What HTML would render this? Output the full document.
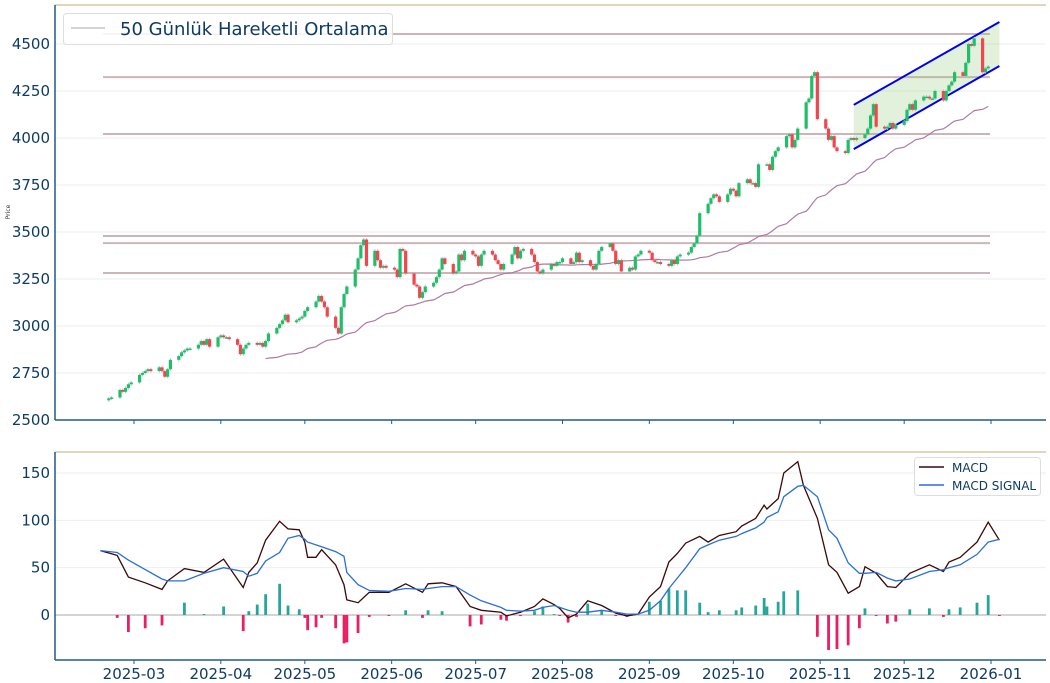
<!DOCTYPE html>
<html><head><meta charset="utf-8">
<style>
html,body{margin:0;padding:0;background:#fff;}
svg{display:block;font-family:"DejaVu Sans","Liberation Sans",sans-serif;}
</style></head>
<body>
<svg id="chart" width="1050" height="683" viewBox="0 0 1050 683" xmlns="http://www.w3.org/2000/svg">
<g id="gtop"></g>
<g id="gbot"></g>
</svg>
<script>
// ---- data ----
const monthCloses = [
 [2615,2620,2660,2650,2670,2690,2700],
 [2740,2750,2760,2770,2760,2780,2760,2730,2770,2820,2840,2860,2870,2880,2880,2900,2920,2900,2930,2890,2940],
 [2950,2940,2940,2930,2900,2850,2880,2900,2910,2900,2910,2890,2920,2960,2990,3010,3030,3060,3020,3030,3040,3050],
 [3080,3100,3130,3160,3130,3100,3050,2990,2960,3100,3170,3210,3300,3360,3430,3460,3320,3400,3350,3310,3320,3310],
 [3300,3260,3410,3400,3280,3220,3210,3150,3180,3210,3230,3260,3300,3360,3330,3280,3290,3380,3350,3400,3380],
 [3370,3320,3380,3400,3380,3350,3330,3300,3330,3380,3420,3360,3400,3410,3380,3340,3290,3280,3300,3330,3320,3340,3340],
 [3360,3330,3340,3390,3340,3350,3320,3300,3330,3400,3420,3440,3400,3330,3350,3290,3310,3300,3370,3380,3400],
 [3390,3350,3340,3340,3330,3320,3350,3330,3370,3380,3390,3420,3440,3480,3600,3650,3680,3700,3690,3660,3700,3730],
 [3720,3690,3760,3780,3760,3760,3740,3860,3860,3830,3900,3930,3950,4010,4020,3950,3990,4050,4190,4210,4330,4350,4100],
 [4050,3990,4010,3950,3930,3920,3990,4000,3990,4000,4020,4050,4120,4180,4060,4050,4060,4080,4050,4070],
 [4090,4150,4180,4150,4200,4220,4220,4210,4210,4250,4200,4250,4280,4300,4350,4330,4400,4500,4490,4530,4350,4370,4380]
];
const levels = [4553,4324,4021,3479,3441,3282];
const channelDates = ["2025-11-13","2026-01-04"];
const channelUpper = [4176,4617];
const channelLower = [3941,4383];
const priceTicks = [2500,2750,3000,3250,3500,3750,4000,4250,4500];
const macdTicks = [0,50,100,150];
const monthLabels = ["2025-03","2025-04","2025-05","2025-06","2025-07","2025-08","2025-09","2025-10","2025-11","2025-12","2026-01"];
const macdDates = ["2025-02-17","2025-02-23","2025-02-27","2025-03-05","2025-03-11","2025-03-13","2025-03-19","2025-03-26","2025-04-02","2025-04-09","2025-04-11","2025-04-14","2025-04-17","2025-04-22","2025-04-25","2025-04-29","2025-05-01","2025-05-02","2025-05-05","2025-05-07","2025-05-12","2025-05-15","2025-05-16","2025-05-20","2025-05-24","2025-05-31","2025-06-06","2025-06-12","2025-06-14","2025-06-19","2025-06-24","2025-06-29","2025-07-03","2025-07-10","2025-07-12","2025-07-17","2025-07-22","2025-07-25","2025-07-29","2025-07-31","2025-08-03","2025-08-06","2025-08-10","2025-08-15","2025-08-20","2025-08-24","2025-08-28","2025-09-01","2025-09-05","2025-09-08","2025-09-11","2025-09-14","2025-09-19","2025-09-22","2025-09-26","2025-10-02","2025-10-04","2025-10-09","2025-10-12","2025-10-13","2025-10-17","2025-10-19","2025-10-24","2025-10-26","2025-10-31","2025-11-04","2025-11-07","2025-11-11","2025-11-15","2025-11-17","2025-11-21","2025-11-25","2025-11-28","2025-12-03","2025-12-10","2025-12-15","2025-12-17","2025-12-21","2025-12-27","2025-12-31","2026-01-04"];
const macdValues = [68,63,40,34,27,36,49,45,59,29,45,55,79,99,91,90,77,61,61,69,53,32,16,13,24,24,33,24,33,34,30,9,5,3,-1,3,9,17,11,7,-3,1,15,10,2,-1,1,19,30,56,65,76,83,77,84,88,94,102,116,112,123,150,162,137,102,53,45,23,30,51,44,30,29,44,53,46,56,61,77,98,79];
const signalValues = [68,66,58,48,38,36,36,44,50,46,41,44,57,66,81,84,80,77,74,72,67,62,45,32,26,25,28,27,28,30,30,21,15,8,5,4,5,8,10,8,5,3,3,5,3,1,1,5,15,28,39,50,70,74,79,83,86,92,98,103,109,125,136,137,125,90,81,55,44,44,45,39,36,38,46,48,50,53,64,77,80];

// ---- scales ----
const NS="http://www.w3.org/2000/svg";
const d0 = Date.UTC(2025,2,1);
function xD(t){ return 134 + (t-d0)/86400000*(991-134)/306; }
function yP(v){ return 420 - (v-2500)*376/2000; }
function yM(v){ return 615 - v*142/150; }
function mk(parent,tag,attrs){ const e=document.createElementNS(NS,tag); for(const k in attrs) e.setAttribute(k,attrs[k]); parent.appendChild(e); return e; }
const gTop=document.getElementById('gtop'), gBot=document.getElementById('gbot');

const closes=[]; const dates=[];
let cur=Date.UTC(2025,1,20);
monthCloses.forEach(function(arr){
  arr.forEach(function(c){
    while(true){ const wd=new Date(cur).getUTCDay(); if(wd!==0&&wd!==6) break; cur+=86400000; }
    dates.push(cur); closes.push(c); cur+=86400000;
  });
});
const xs=dates.map(xD);

priceTicks.forEach(function(v){
  const l=mk(gTop,'line',{x1:55,x2:1046,y1:yP(v),y2:yP(v),stroke:'#eeeeee','stroke-width':1});
  
  
});
macdTicks.forEach(function(v){
  const l=mk(gBot,'line',{x1:55,x2:1046,y1:yM(v),y2:yM(v),stroke:v===0?'#aaaaaa':'#eeeeee','stroke-width':1});
  
  
});

levels.forEach(function(v){
  const l=mk(gTop,'line',{x1:103,x2:990,y1:yP(v),y2:yP(v),stroke:'#cdb4b8','stroke-width':2});
  
  
});

(function(){
  const x1=xD(Date.parse(channelDates[0])), x2=xD(Date.parse(channelDates[1]));
  const p=mk(gTop,'polygon',{points:x1+','+yP(channelUpper[0])+' '+x2+','+yP(channelUpper[1])+' '+x2+','+yP(channelLower[1])+' '+x1+','+yP(channelLower[0]),fill:'rgba(140,200,110,0.25)'});
  
  
  const u=mk(gTop,'line',{x1:x1,x2:x2,y1:yP(channelUpper[0]),y2:yP(channelUpper[1]),stroke:'#0000ee','stroke-width':2});
  
  
  const lo=mk(gTop,'line',{x1:x1,x2:x2,y1:yP(channelLower[0]),y2:yP(channelLower[1]),stroke:'#0000ee','stroke-width':2});
  
  
})();

(function(){
  let pts=[];
  for(let i=40;i<closes.length;i++){
    const s=closes.slice(Math.max(0,i-49),i+1); const m=s.reduce((a,b)=>a+b,0)/s.length;
    pts.push(xs[i].toFixed(1)+','+yP(m).toFixed(1));
  }
  const pl=mk(gTop,'polyline',{points:pts.join(' '),fill:'none',stroke:'#b07aa1','stroke-width':1.2});
  
  
})();

for(let i=0;i<closes.length;i++){
  const o=i>0?closes[i-1]:closes[i]-10, c=closes[i];
  const up=c>=o, col=up?'#1fbf6a':'#f0474f';
  const hi=Math.max(o,c)+8, lo=Math.min(o,c)-8;
  const w=mk(gTop,'line',{x1:xs[i],x2:xs[i],y1:yP(hi),y2:yP(lo),stroke:'#bbbbbb','stroke-width':1});
  
  
  const yt=yP(Math.max(o,c)), h=Math.max(1.5,Math.abs(yP(o)-yP(c)));
  const r=mk(gTop,'rect',{x:xs[i]-1.6,y:yt,width:3.2,height:h,fill:col});
  
  
}

// MACD
const mx=macdDates.map(function(d){ return xD(Date.parse(d)); });
for(let i=0;i<macdValues.length;i++){
  const h=macdValues[i]-signalValues[i];
  const r=mk(gBot,'rect',{x:mx[i]-1.4,y:Math.min(yM(0),yM(h)),width:2.8,height:Math.abs(yM(h)-yM(0)),fill:h>=0?'#26a69a':'#e91e63'});
  
  
}
(function(){
  const m=mk(gBot,'polyline',{points:mx.map((x,i)=>x.toFixed(1)+','+yM(macdValues[i]).toFixed(1)).join(' '),fill:'none',stroke:'#3b0808','stroke-width':1.3});
  
  
  const s=mk(gBot,'polyline',{points:mx.map((x,i)=>x.toFixed(1)+','+yM(signalValues[i]).toFixed(1)).join(' '),fill:'none',stroke:'#2a6fd6','stroke-width':1.3});
  
  
})();

function spines(g,y0,y1){
  let e=mk(g,'line',{x1:55,x2:1046,y1:y0,y2:y0,stroke:'#d8c8a0','stroke-width':1.5});
  
  
  e=mk(g,'line',{x1:55,x2:55,y1:y0,y2:y1,stroke:'#1f5a8a','stroke-width':1.5});
  
  
  e=mk(g,'line',{x1:55,x2:1046,y1:y1,y2:y1,stroke:'#1f5a8a','stroke-width':1.5});
  
  
}
spines(gTop,5,420); spines(gBot,452,660);
priceTicks.forEach(function(v){
  const t=mk(gTop,'text',{x:50,y:yP(v)+5,'text-anchor':'end','font-size':15,fill:'#0d3b66'}); t.textContent=v;
  
  
});
macdTicks.forEach(function(v){
  const t=mk(gBot,'text',{x:50,y:yM(v)+5,'text-anchor':'end','font-size':15,fill:'#0d3b66'}); t.textContent=v;
  
  
});
monthLabels.forEach(function(m){
  const x=xD(Date.parse(m+'-01'));
  const tk=mk(gBot,'line',{x1:x,x2:x,y1:660,y2:664,stroke:'#1f5a8a'});
  
  
  const t=mk(gBot,'text',{x:x,y:679,'text-anchor':'middle','font-size':15,fill:'#0d3b66'}); t.textContent=m;
  
  
  const tk2=mk(gTop,'line',{x1:x,x2:x,y1:420,y2:424,stroke:'#1f5a8a'});
  
  
});
</script>
<svg style="position:absolute;left:0;top:0" width="1050" height="683">
<text x="10" y="212" font-size="6" fill="#333" transform="rotate(-90 10 212)" text-anchor="middle">Price</text>
<g>
<rect x="63.5" y="13.5" width="329" height="31" rx="3" fill="#fff" fill-opacity="0.85" stroke="#dddddd"/>
<line x1="71" y1="28" x2="105" y2="28" stroke="#bbbbbb" stroke-width="1.2"/>
<text x="120" y="35" font-size="18" fill="#0d3b66" font-family="DejaVu Sans, sans-serif">50 Günlük Hareketli Ortalama</text>
</g>
<g>
<rect x="914.5" y="457.5" width="126" height="38" rx="3" fill="#fff" fill-opacity="0.9" stroke="#dddddd"/>
<line x1="919" y1="467" x2="944" y2="467" stroke="#3b0808" stroke-width="1.5"/>
<text x="952" y="472" font-size="12" fill="#0d3b66" font-family="DejaVu Sans, sans-serif">MACD</text>
<line x1="919" y1="485" x2="944" y2="485" stroke="#2a6fd6" stroke-width="1.5"/>
<text x="952" y="490" font-size="12" fill="#0d3b66" font-family="DejaVu Sans, sans-serif">MACD SIGNAL</text>
</g>
</svg>
</body></html>
